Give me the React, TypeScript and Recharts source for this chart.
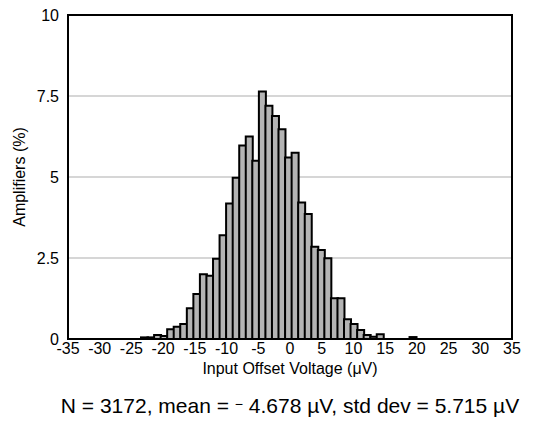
import { BarChart, Bar, XAxis, YAxis, CartesianGrid, ReferenceArea } from "recharts";

// bin centres (µV) and share of amplifiers (%)
const binCenters = [
  -22.98, -21.95, -20.91, -19.88, -18.85, -17.82, -16.79, -15.75, -14.72, -13.69,
  -12.66, -11.62, -10.59, -9.56, -8.52, -7.49, -6.46, -5.43, -4.39, -3.36,
  -2.33, -1.3, -0.26, 0.77, 1.8, 2.84, 3.87, 4.9, 5.93, 6.97,
  8.0, 9.03, 10.06, 11.1, 12.13, 13.16, 14.19, 19.36,
];
const percents = [
  0.05, 0.05, 0.12, 0.09, 0.3, 0.38, 0.46, 0.95, 1.39, 2.0,
  1.95, 2.48, 3.2, 4.18, 4.98, 5.97, 6.25, 5.5, 7.64, 7.2,
  6.88, 6.47, 5.6, 5.75, 4.21, 3.86, 2.85, 2.75, 2.49, 1.26,
  1.26, 0.61, 0.46, 0.28, 0.12, 0.07, 0.15, 0.06,
];
const xTicks = [-35, -30, -25, -20, -15, -10, -5, 0, 5, 10, 15, 20, 25, 30, 35];
const yTicks = [0, 2.5, 5, 7.5, 10];

const data = binCenters.map((v, i) => ({ v, pct: percents[i] }));

const font = '"Liberation Sans", Arial, sans-serif';

export default function App() {
  return (
    <div style={{ position: "absolute", left: 0, top: 0, width: 539, height: 428, fontFamily: font }}>
      <BarChart
        width={539}
        height={428}
        data={data}
        margin={{ top: 15, right: 27, left: 0, bottom: 0 }}
        barCategoryGap={0}
        barGap={0}
      >
        <CartesianGrid vertical={false} stroke="#c8c8c8" strokeWidth={1.5} />
        <XAxis
          dataKey="v"
          type="number"
          domain={[-35, 35]}
          ticks={xTicks}
          height={89}
          tickLine={false}
          tickSize={3}
          tickMargin={1}
          axisLine={false}
          tick={{ fill: "#000", fontSize: 16, fontFamily: font }}
          interval={0}
        />
        <YAxis
          type="number"
          domain={[0, 10]}
          ticks={yTicks}
          width={68}
          tickLine={false}
          tickSize={7}
          axisLine={false}
          tick={{ fill: "#000", fontSize: 16, fontFamily: font }}
          interval={0}
        />
        <Bar
          dataKey="pct"
          fill="#b4b4b4"
          stroke="#000"
          strokeWidth={2}
          isAnimationActive={false}
        />
        <ReferenceArea
          x1={-35}
          x2={35}
          y1={0}
          y2={10}
          fill="none"
          fillOpacity={0}
          stroke="#000"
          strokeWidth={2}
          ifOverflow="visible"
        />
      </BarChart>
      <svg
        width={539}
        height={428}
        style={{ position: "absolute", left: 0, top: 0, pointerEvents: "none" }}
      >
        <text
          x={290}
          y={374}
          textAnchor="middle"
          fontSize={16}
          fontFamily={font}
          fill="#000"
        >
          Input Offset Voltage (μV)
        </text>
        <text
          transform="translate(25,177) rotate(-90)"
          textAnchor="middle"
          fontSize={16}
          fontFamily={font}
          fill="#000"
        >
          Amplifiers (%)
        </text>
        <text
          x={290}
          y={413}
          textAnchor="middle"
          fontSize={21}
          fontFamily={font}
          fill="#000"
        >
          N = 3172, mean = <tspan fontSize={14} dy={-4}>−</tspan>
          <tspan dy={4}> 4.678 µV, std dev = 5.715 µV</tspan>
        </text>
      </svg>
    </div>
  );
}
